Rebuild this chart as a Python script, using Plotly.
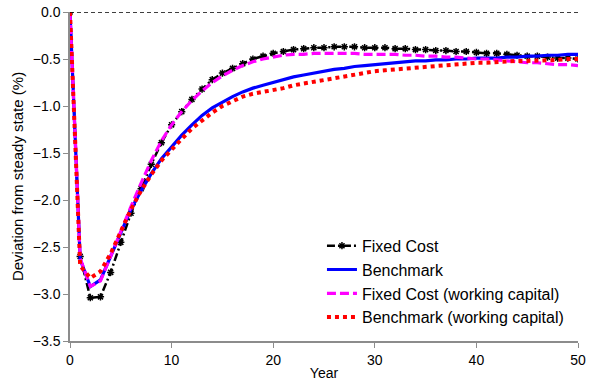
import plotly.graph_objects as go

years = list(range(0, 51))

fixed_cost = [0.0, -2.60, -3.04, -3.03, -2.77, -2.45, -2.14, -1.88, -1.62, -1.39, -1.20,
              -1.06, -0.93, -0.82, -0.72, -0.65, -0.60, -0.55, -0.50, -0.47, -0.44,
              -0.42, -0.40, -0.39, -0.38, -0.38, -0.37, -0.37, -0.37, -0.38, -0.38,
              -0.38, -0.39, -0.39, -0.40, -0.40, -0.41, -0.41, -0.42, -0.42, -0.43,
              -0.44, -0.44, -0.45, -0.46, -0.47, -0.47, -0.48, -0.49, -0.49, -0.50]

benchmark = [0.0, -2.63, -2.92, -2.85, -2.60, -2.35, -2.10, -1.90, -1.72, -1.56, -1.43,
             -1.31, -1.20, -1.10, -1.02, -0.96, -0.90, -0.85, -0.81, -0.78, -0.75,
             -0.72, -0.69, -0.67, -0.65, -0.63, -0.61, -0.60, -0.58, -0.57, -0.56,
             -0.55, -0.54, -0.53, -0.52, -0.52, -0.51, -0.51, -0.50, -0.50, -0.49,
             -0.49, -0.49, -0.48, -0.48, -0.47, -0.47, -0.46, -0.46, -0.45, -0.45]

fixed_cost_wc = [0.0, -2.62, -2.92, -2.86, -2.60, -2.33, -2.07, -1.82, -1.58, -1.37, -1.20,
                 -1.06, -0.94, -0.84, -0.75, -0.68, -0.62, -0.57, -0.53, -0.50, -0.48,
                 -0.46, -0.45, -0.45, -0.44, -0.44, -0.44, -0.44, -0.44, -0.45, -0.45,
                 -0.45, -0.45, -0.46, -0.46, -0.47, -0.47, -0.48, -0.48, -0.49, -0.50,
                 -0.50, -0.51, -0.52, -0.53, -0.54, -0.54, -0.55, -0.56, -0.56, -0.57]

benchmark_wc = [0.0, -2.70, -2.83, -2.76, -2.57, -2.33, -2.10, -1.90, -1.73, -1.58, -1.46,
                -1.35, -1.24, -1.15, -1.07, -1.00, -0.95, -0.90, -0.87, -0.85, -0.84,
                -0.81, -0.78, -0.76, -0.74, -0.72, -0.70, -0.68, -0.66, -0.65, -0.63,
                -0.62, -0.61, -0.60, -0.59, -0.58, -0.57, -0.56, -0.56, -0.55, -0.54,
                -0.54, -0.53, -0.53, -0.52, -0.52, -0.52, -0.51, -0.51, -0.50, -0.50]

y_ticks = [0.0, -0.5, -1.0, -1.5, -2.0, -2.5, -3.0, -3.5]
x_ticks = [0, 10, 20, 30, 40, 50]

FONT = "Liberation Sans, Arial, sans-serif"

fig = go.Figure()
fig.add_hline(y=0, line=dict(color="black", width=1.5, dash="4px,3px"))

fig.add_trace(go.Scatter(
    x=years, y=fixed_cost, name="Fixed Cost", mode="lines+markers", legendgroup="a",
    line=dict(color="black", width=2.5, dash="8px,3px,2px,3px"),
    marker=dict(symbol="asterisk-open", size=6, color="black", line=dict(color="black", width=1.5))))
fig.add_trace(go.Scatter(
    x=years, y=benchmark, name="Benchmark", mode="lines", legendgroup="b",
    line=dict(color="#0000ff", width=3.2)))
fig.add_trace(go.Scatter(
    x=years, y=fixed_cost_wc, name="Fixed Cost (working capital)", mode="lines", legendgroup="c",
    line=dict(color="#ff00ff", width=3.2, dash="9px,4px")))
fig.add_trace(go.Scatter(
    x=years, y=benchmark_wc, name="Benchmark (working capital)", mode="lines", legendgroup="d",
    line=dict(color="#ff0000", width=4, dash="4px,4px")))

axis_common = dict(showgrid=False, zeroline=False, showline=True, linecolor="#8c8c8c",
                   linewidth=1.5, ticks="outside", tickcolor="#8c8c8c", ticklen=5,
                   automargin=False,
                   tickfont=dict(family=FONT, size=14, color="black"))

fig.update_xaxes(range=[0, 50], tickvals=x_ticks, title=dict(text="Year", standoff=2,
                 font=dict(family=FONT, size=14, color="black")), **axis_common)
fig.update_yaxes(range=[-3.5, 0], tickvals=y_ticks, tickformat=".1f",
                 title=dict(text="Deviation from steady state (%)", standoff=6,
                            font=dict(family=FONT, size=15, color="black")), **axis_common)

fig.update_layout(
    width=593, height=387,
    margin=dict(l=70, r=15, t=12, b=46),
    paper_bgcolor="white", plot_bgcolor="white",
    font=dict(family=FONT, size=14, color="black"),
    legend=dict(x=0.496, y=0.341, xanchor="left", yanchor="top", bgcolor="rgba(0,0,0,0)",
                font=dict(family=FONT, size=16, color="black"), tracegroupgap=0,
                traceorder="grouped", itemwidth=30),
)

fig.write_html("out.html")
